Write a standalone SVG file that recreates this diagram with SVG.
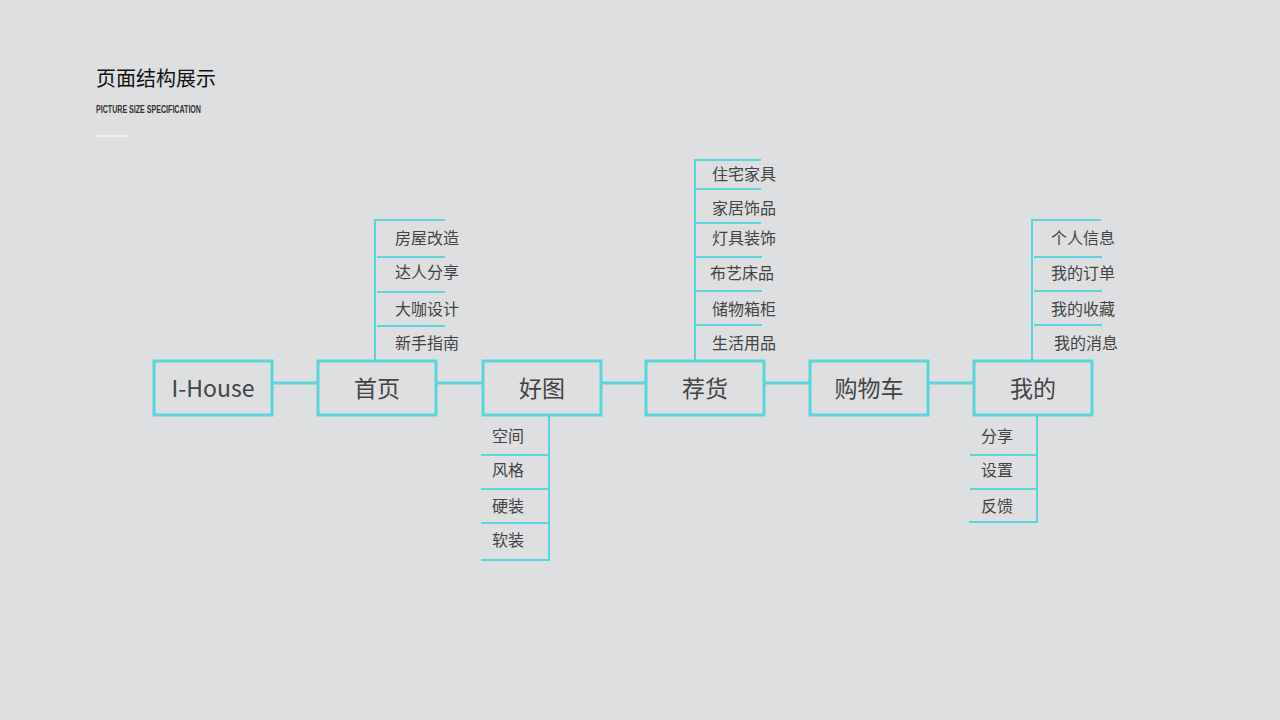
<svg xmlns="http://www.w3.org/2000/svg" width="1280" height="720" viewBox="0 0 1280 720">
<style>
.box{fill:none;stroke:#5ad5dc;stroke-width:3}
.ln{stroke:#5ad5dc;stroke-width:2;fill:none}
.cn{stroke:#5ad5dc;stroke-width:3}
.bt{font-family:"Noto Sans CJK SC","Noto Sans",sans-serif;font-size:23px;fill:#444;text-anchor:middle}
.st{font-family:"Noto Sans CJK SC",sans-serif;font-size:16px;fill:#444}
</style>
<rect width="1280" height="720" fill="#dedfe1"/>
<text x="96" y="86" font-family="Noto Sans CJK SC,sans-serif" font-size="20" fill="#111">页面结构展示</text>
<text x="96" y="113" font-family="Liberation Sans,sans-serif" font-size="10" font-weight="bold" fill="#333" textLength="105" lengthAdjust="spacingAndGlyphs">PICTURE SIZE SPECIFICATION</text>
<line x1="96" y1="136" x2="128" y2="136" stroke="#f4f4f4" stroke-width="1.5"/>
<g id="connectors">
<line class="cn" x1="272" y1="383" x2="318" y2="383"/>
<line class="cn" x1="436" y1="383" x2="483" y2="383"/>
<line class="cn" x1="601" y1="383" x2="646" y2="383"/>
<line class="cn" x1="764" y1="383" x2="810" y2="383"/>
<line class="cn" x1="928" y1="383" x2="974" y2="383"/>
<path class="ln" d="M375 361V220H445M377 257H445M377 292H445M377 326H445"/>
<path class="ln" d="M549 416V560H481M481 455H549M481 489H549M481 523H549"/>
<path class="ln" d="M695 361V160H761M695 189H761M695 223H761M695 257H762M695 291H762M695 325H762"/>
<path class="ln" d="M1032 361V220H1101M1034 257H1102M1034 291H1102M1034 325H1102"/>
<path class="ln" d="M1037 416V522H969M970 455H1037M970 489H1037"/>
</g>
<g id="n-ihouse"><rect class="box" x="154" y="361" width="118" height="54"/><text class="bt" x="213" y="397" font-family="Open Sans,sans-serif">I-House</text></g>
<g id="n-home"><rect class="box" x="318" y="361" width="118" height="54"/><text class="bt" x="377" y="397">首页</text></g>
<g id="n-pic"><rect class="box" x="483" y="361" width="118" height="54"/><text class="bt" x="542" y="397">好图</text></g>
<g id="n-rec"><rect class="box" x="646" y="361" width="118" height="54"/><text class="bt" x="705" y="397">荐货</text></g>
<g id="n-cart"><rect class="box" x="810" y="361" width="118" height="54"/><text class="bt" x="869" y="397">购物车</text></g>
<g id="n-me"><rect class="box" x="974" y="361" width="118" height="54"/><text class="bt" x="1033" y="397">我的</text></g>
<g id="home-items"><text class="st" x="395" y="244">房屋改造</text><text class="st" x="395" y="278">达人分享</text><text class="st" x="395" y="315">大咖设计</text><text class="st" x="395" y="349">新手指南</text></g>
<g id="pic-items"><text class="st" x="492" y="442">空间</text><text class="st" x="492" y="476">风格</text><text class="st" x="492" y="512">硬装</text><text class="st" x="492" y="546">软装</text></g>
<g id="rec-items"><text class="st" x="712" y="180">住宅家具</text><text class="st" x="712" y="214">家居饰品</text><text class="st" x="712" y="244">灯具装饰</text><text class="st" x="710" y="279">布艺床品</text><text class="st" x="712" y="315">储物箱柜</text><text class="st" x="712" y="349">生活用品</text></g>
<g id="me-items"><text class="st" x="1051" y="244">个人信息</text><text class="st" x="1051" y="279">我的订单</text><text class="st" x="1051" y="315">我的收藏</text><text class="st" x="1054" y="349">我的消息</text>
<text class="st" x="981" y="442">分享</text><text class="st" x="981" y="476">设置</text><text class="st" x="981" y="512">反馈</text></g>
</svg>
